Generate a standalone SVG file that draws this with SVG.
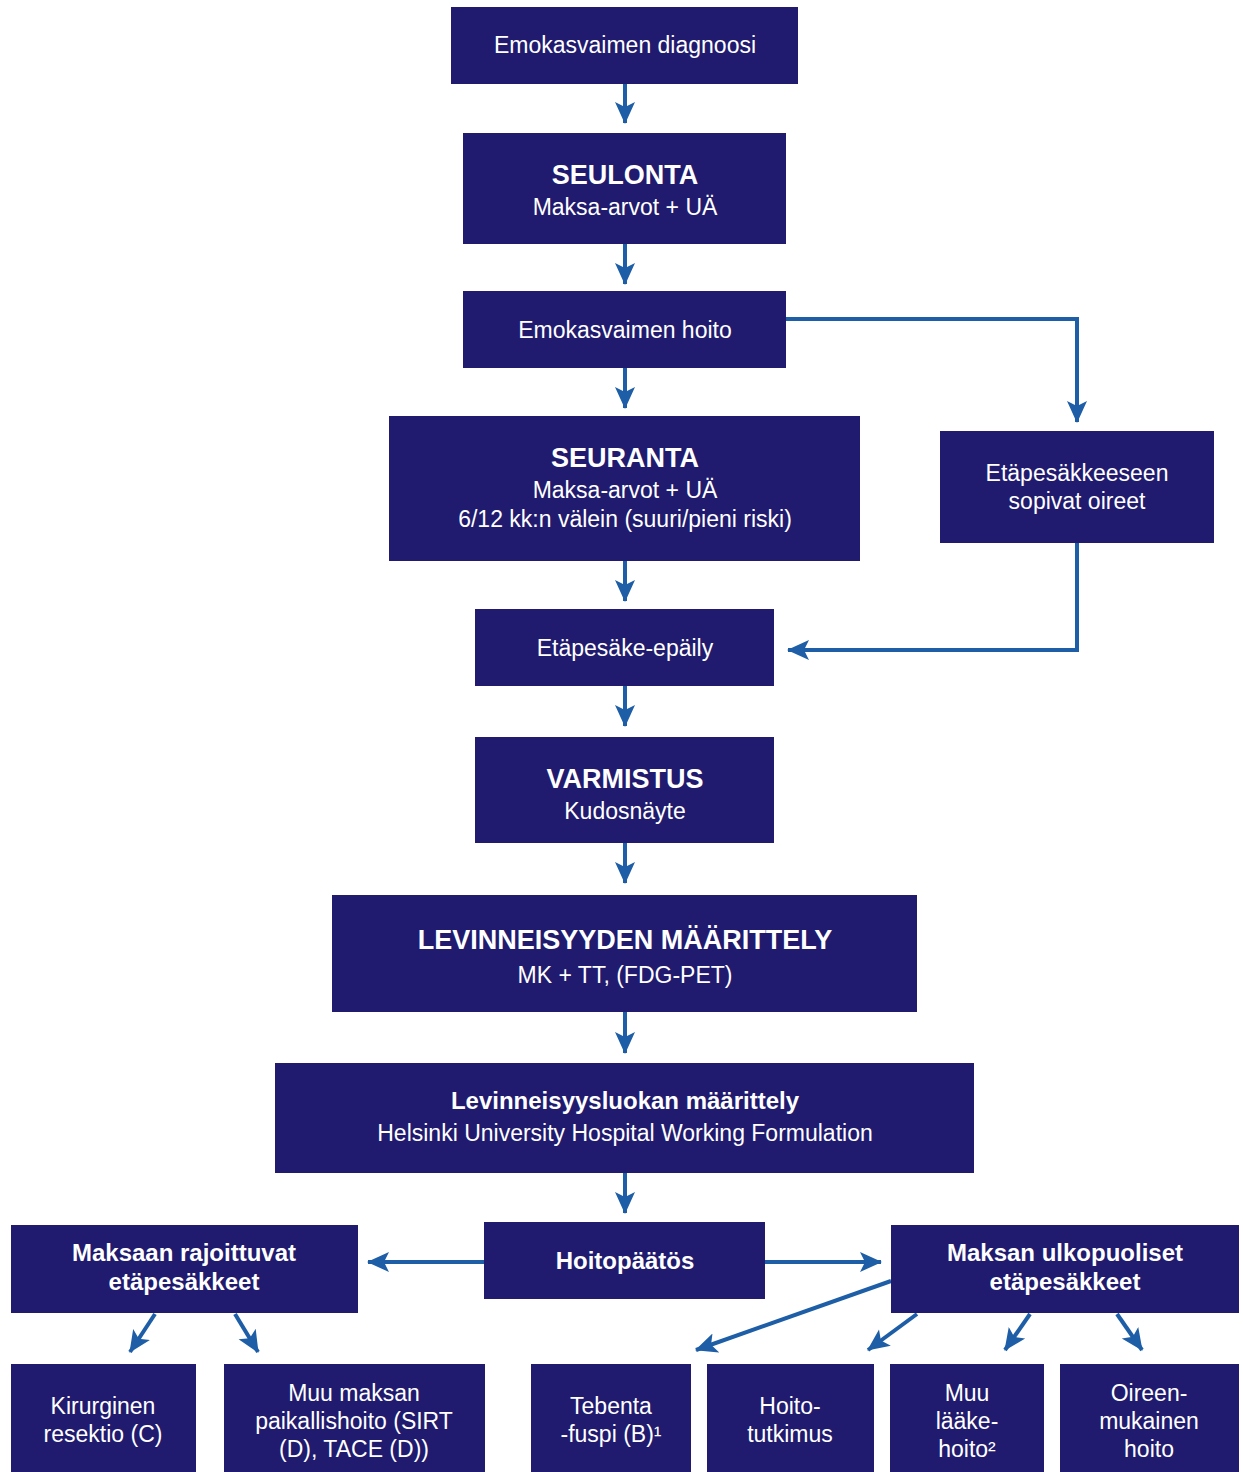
<svg xmlns="http://www.w3.org/2000/svg" width="1243" height="1472" viewBox="0 0 1243 1472">
<defs>
<style>
.box{fill:#201b6e;}
.t{font-family:"Liberation Sans",Arial,sans-serif;fill:#ffffff;text-anchor:middle;font-size:23px;}
.b{font-weight:bold;font-size:27px;}
.bs{font-weight:bold;font-size:24px;}
.c{fill:none;stroke:#1d5ea6;stroke-width:4;marker-end:url(#ah);}
</style>
<marker id="ah" viewBox="0 0 22 22" refX="21" refY="11" markerWidth="22" markerHeight="22" markerUnits="userSpaceOnUse" orient="auto">
<path d="M0,1 L22,11 L0,21 L5,11 z" fill="#1d5ea6"/>
</marker>
</defs>
<rect width="1243" height="1472" fill="#ffffff"/>
<g id="connectors">
<line class="c" x1="625" y1="84" x2="625" y2="123"/>
<line class="c" x1="625" y1="244" x2="625" y2="284"/>
<line class="c" x1="625" y1="368" x2="625" y2="408"/>
<line class="c" x1="625" y1="561" x2="625" y2="601"/>
<line class="c" x1="625" y1="686" x2="625" y2="726"/>
<line class="c" x1="625" y1="843" x2="625" y2="883"/>
<line class="c" x1="625" y1="1012" x2="625" y2="1053"/>
<line class="c" x1="625" y1="1173" x2="625" y2="1213"/>
<polyline class="c" points="786,319 1077,319 1077,422"/>
<polyline class="c" points="1077,543 1077,650 788,650"/>
<line class="c" x1="484" y1="1262" x2="368" y2="1262"/>
<line class="c" x1="765" y1="1262" x2="881" y2="1262"/>
<line class="c" x1="155" y1="1314" x2="130" y2="1352"/>
<line class="c" x1="235" y1="1314" x2="258" y2="1352"/>
<line class="c" x1="891" y1="1281" x2="696" y2="1350"/>
<line class="c" x1="917" y1="1314" x2="868" y2="1350"/>
<line class="c" x1="1030" y1="1314" x2="1005" y2="1350"/>
<line class="c" x1="1117" y1="1314" x2="1142" y2="1350"/>
</g>
<g id="n1"><rect class="box" x="451" y="7" width="347" height="77"/><text class="t" x="625" y="53">Emokasvaimen diagnoosi</text></g>
<g id="n2"><rect class="box" x="463" y="133" width="323" height="111"/><text class="t b" x="625" y="184">SEULONTA</text><text class="t" x="625" y="215">Maksa-arvot + UÄ</text></g>
<g id="n3"><rect class="box" x="463" y="291" width="323" height="77"/><text class="t" x="625" y="338">Emokasvaimen hoito</text></g>
<g id="n4"><rect class="box" x="389" y="416" width="471" height="145"/><text class="t b" x="625" y="467">SEURANTA</text><text class="t" x="625" y="498">Maksa-arvot + UÄ</text><text class="t" x="625" y="527">6/12 kk:n välein (suuri/pieni riski)</text></g>
<g id="n5"><rect class="box" x="940" y="431" width="274" height="112"/><text class="t" x="1077" y="481">Etäpesäkkeeseen</text><text class="t" x="1077" y="509">sopivat oireet</text></g>
<g id="n6"><rect class="box" x="475" y="609" width="299" height="77"/><text class="t" x="625" y="656">Etäpesäke-epäily</text></g>
<g id="n7"><rect class="box" x="475" y="737" width="299" height="106"/><text class="t b" x="625" y="788">VARMISTUS</text><text class="t" x="625" y="819">Kudosnäyte</text></g>
<g id="n8"><rect class="box" x="332" y="895" width="585" height="117"/><text class="t b" x="625" y="949">LEVINNEISYYDEN MÄÄRITTELY</text><text class="t" x="625" y="983">MK + TT, (FDG-PET)</text></g>
<g id="n9"><rect class="box" x="275" y="1063" width="699" height="110"/><text class="t bs" x="625" y="1109">Levinneisyysluokan määrittely</text><text class="t" x="625" y="1141">Helsinki University Hospital Working Formulation</text></g>
<g id="n10"><rect class="box" x="484" y="1222" width="281" height="77"/><text class="t bs" x="625" y="1269">Hoitopäätös</text></g>
<g id="n11"><rect class="box" x="11" y="1225" width="347" height="88"/><text class="t bs" x="184" y="1261">Maksaan rajoittuvat</text><text class="t bs" x="184" y="1290">etäpesäkkeet</text></g>
<g id="n12"><rect class="box" x="891" y="1225" width="348" height="88"/><text class="t bs" x="1065" y="1261">Maksan ulkopuoliset</text><text class="t bs" x="1065" y="1290">etäpesäkkeet</text></g>
<g id="n13"><rect class="box" x="11" y="1364" width="185" height="120"/><text class="t" x="103" y="1414">Kirurginen</text><text class="t" x="103" y="1442">resektio (C)</text></g>
<g id="n14"><rect class="box" x="224" y="1364" width="261" height="120"/><text class="t" x="354" y="1401">Muu maksan</text><text class="t" x="354" y="1429">paikallishoito (SIRT</text><text class="t" x="354" y="1457">(D), TACE (D))</text></g>
<g id="n15"><rect class="box" x="531" y="1364" width="160" height="120"/><text class="t" x="611" y="1414">Tebenta</text><text class="t" x="611" y="1442">-fuspi (B)¹</text></g>
<g id="n16"><rect class="box" x="707" y="1364" width="167" height="120"/><text class="t" x="790" y="1414">Hoito-</text><text class="t" x="790" y="1442">tutkimus</text></g>
<g id="n17"><rect class="box" x="890" y="1364" width="154" height="120"/><text class="t" x="967" y="1401">Muu</text><text class="t" x="967" y="1429">lääke-</text><text class="t" x="967" y="1457">hoito²</text></g>
<g id="n18"><rect class="box" x="1060" y="1364" width="179" height="120"/><text class="t" x="1149" y="1401">Oireen-</text><text class="t" x="1149" y="1429">mukainen</text><text class="t" x="1149" y="1457">hoito</text></g>
</svg>
